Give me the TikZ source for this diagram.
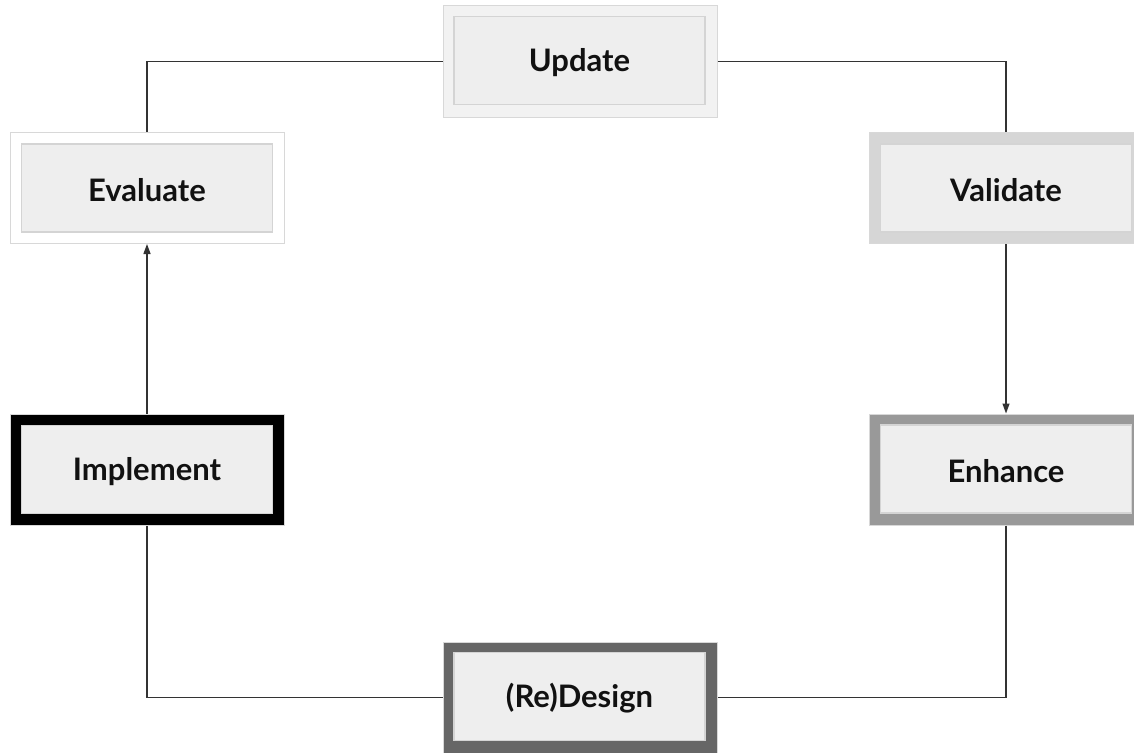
\documentclass[tikz,border=0pt]{standalone}
\usepackage{fontspec}
\setmainfont{Lato}
\usetikzlibrary{arrows.meta}
\definecolor{boxfill}{HTML}{EEEEEE}
\definecolor{boxline}{HTML}{D4D4D4}
\definecolor{linec}{HTML}{333333}
\definecolor{bandA}{HTML}{F2F2F2}
\definecolor{bandB}{HTML}{FFFFFF}
\definecolor{bandC}{HTML}{D6D6D6}
\definecolor{bandD}{HTML}{000000}
\definecolor{bandE}{HTML}{999999}
\definecolor{bandF}{HTML}{666666}
\definecolor{edgec}{HTML}{D8D8D8}
\definecolor{textc}{HTML}{111111}
\begin{document}
\begin{tikzpicture}[x=1pt,y=-1pt,
  outerbox/.style={rectangle, minimum width=274pt, minimum height=111pt, inner sep=0pt, draw=edgec, line width=1pt, fill=#1},
  innerbox/.style={rectangle, minimum width=251pt, minimum height=88pt, inner sep=0pt, fill=boxfill, draw=boxline, line width=1.3pt},
  label/.style={text=textc, font=\bfseries\fontsize{31}{37}\selectfont, inner sep=0pt},
  link/.style={draw=linec, line width=1.3pt},
  arr/.style={link, -{Triangle[length=10pt,width=7pt]}}]
\clip (0,0) rectangle (1134,752);
\fill[white] (0,0) rectangle (1134,752);
% boxes
\node[outerbox=bandA] (upd) at (580,61.5) {};
\node[innerbox] (updi) at (579.5,60.5) {};
\node[label] (updt) at (579.5,62.5) {Update};
\node[outerbox=bandB] (eva) at (147,188) {};
\node[innerbox] (evai) at (147,188) {};
\node[label] (evat) at (147,190.5) {Evaluate};
\node[outerbox=bandC] (val) at (1006,188) {};
\node[innerbox] (vali) at (1006,188) {};
\node[label] (valt) at (1006,190.5) {Validate};
\node[outerbox=bandD] (imp) at (147,469.5) {};
\node[innerbox] (impi) at (147,469.5) {};
\node[label] (impt) at (147,471.5) {Implement};
\node[outerbox=bandE] (enh) at (1006,469.5) {};
\node[innerbox] (enhi) at (1006,469) {};
\node[label] (enht) at (1006,471.5) {Enhance};
\node[outerbox=bandF] (red) at (580,697.5) {};
\node[innerbox] (redi) at (579.5,696.5) {};
\node[label] (redt) at (579.5,698.5) {(Re)Design};
% connectors
\draw[link] (upd.west) -| (eva.north);
\draw[link] (upd.east) -| (val.north);
\draw[arr] (val.south) -- (enh.north);
\draw[link] (enh.south) |- (red.east);
\draw[link] (red.west) -| (imp.south);
\draw[arr] (imp.north) -- (eva.south);
\end{tikzpicture}
\end{document}
